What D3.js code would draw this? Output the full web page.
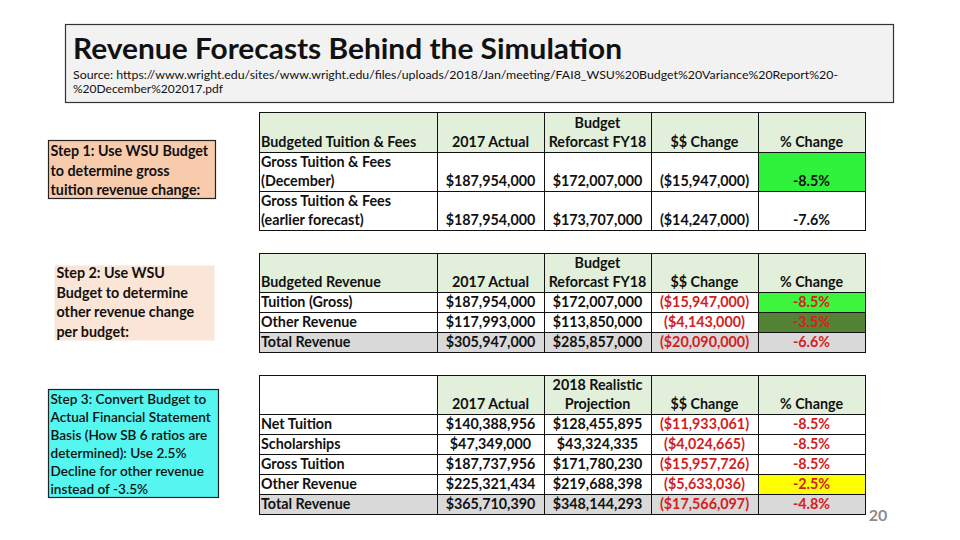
<!DOCTYPE html>
<html><head><meta charset="utf-8">
<script src="https://cdn.jsdelivr.net/npm/d3@7"></script>
<style>
body{margin:0;background:#fff}
svg{display:block}
text{font-family:Lato,"Open Sans","DejaVu Sans",sans-serif}
</style>
</head><body>
<svg id="c" width="960" height="540"></svg>
<script>
// ---------------- DATA ----------------
const title = "Revenue Forecasts Behind the Simulation";
const sourceLines = [
  "Source: https://www.wright.edu/sites/www.wright.edu/files/uploads/2018/Jan/meeting/FAI8_WSU%20Budget%20Variance%20Report%20-",
  "%20December%202017.pdf"
];
const step1 = ["Step 1: Use WSU Budget", "to determine gross", "tuition revenue change:"];
const step2 = ["Step 2: Use WSU", "Budget to determine", "other revenue change", "per budget:"];
const step3 = ["Step 3: Convert Budget to", "Actual Financial Statement", "Basis (How SB 6 ratios are", "determined): Use 2.5%", "Decline for other revenue", "instead of -3.5%"];
const pageNumber = "20";

// Table 1
const t1Headers = [["Budgeted Tuition & Fees"], ["2017 Actual"], ["Budget", "Reforcast FY18"], ["$$ Change"], ["% Change"]];
const t1Labels = [["Gross Tuition & Fees", "(December)"], ["Gross Tuition & Fees", "(earlier forecast)"]];
const t1Actual = [187954000, 187954000];
const t1Budget = [172007000, 173707000];
const t1Change = [-15947000, -14247000];
const t1Pct = [-8.5, -7.6];

// Table 2
const t2Headers = [["Budgeted Revenue"], ["2017 Actual"], ["Budget", "Reforcast FY18"], ["$$ Change"], ["% Change"]];
const t2Labels = [["Tuition (Gross)"], ["Other Revenue"], ["Total Revenue"]];
const t2Actual = [187954000, 117993000, 305947000];
const t2Budget = [172007000, 113850000, 285857000];
const t2Change = [-15947000, -4143000, -20090000];
const t2Pct = [-8.5, -3.5, -6.6];

// Table 3
const t3Headers = [[""], ["2017 Actual"], ["2018 Realistic", "Projection"], ["$$ Change"], ["% Change"]];
const t3Labels = [["Net Tuition"], ["Scholarships"], ["Gross Tuition"], ["Other Revenue"], ["Total Revenue"]];
const t3Actual = [140388956, 47349000, 187737956, 225321434, 365710390];
const t3Projection = [128455895, 43324335, 171780230, 219688398, 348144293];
const t3Change = [-11933061, -4024665, -15957726, -5633036, -17566097];
const t3Pct = [-8.5, -8.5, -8.5, -2.5, -4.8];

// ---------------- STYLE ----------------
const C = {
  headerGreen: "#e2efda", gray: "#d9d9d9", brightGreen: "#2ef23c", green2: "#3df53d",
  darkGreen: "#548235", yellow: "#ffff00", red: "#d42020", line: "#111",
  step1: "#f8cbad", step2: "#fbe5d6", step3: "#55f5f0", titleBox: "#f2f2f2"
};
const FS = 14.3;

const svg = d3.select("#c");
const loc = d3.formatLocale({decimal: ".", thousands: ",", grouping: [3], currency: ["$", ""], minus: "-"});
const fmtN = loc.format(",");
const money = v => v < 0 ? "($" + fmtN(-v) + ")" : "$" + fmtN(v);
const pct = v => loc.format(".1f")(v) + "%";

function fitWidth(sel, w) {
  sel.each(function () {
    const n = this.getComputedTextLength();
    if (n > w) d3.select(this).attr("textLength", w).attr("lengthAdjust", "spacingAndGlyphs");
  });
}

// Title box
svg.append("rect").attr("x", 65.5).attr("y", 24.5).attr("width", 828).attr("height", 78)
  .attr("fill", C.titleBox).attr("stroke", "#333").attr("stroke-width", 1.2);
svg.append("text").attr("x", 73).attr("y", 59).attr("font-size", 28).attr("font-weight", 700)
  .attr("fill", "#111").text(title)
  .attr("textLength", 549).attr("lengthAdjust", "spacingAndGlyphs");
svg.selectAll("text.src").data(sourceLines).join("text").attr("class", "src")
  .attr("x", 73).attr("y", (d, i) => 79 + i * 14).attr("font-size", 11).attr("fill", "#111")
  .text(d => d)
  .each(function (d, i) {
    if (i === 0) d3.select(this).attr("textLength", 765).attr("lengthAdjust", "spacingAndGlyphs");
    else d3.select(this).attr("textLength", 150).attr("lengthAdjust", "spacingAndGlyphs");
  });

// Step boxes
function stepBox(lines, box, opts) {
  const g = svg.append("g");
  g.append("rect").attr("x", box.x + 0.5).attr("y", box.y + 0.5).attr("width", box.w).attr("height", box.h)
    .attr("fill", opts.fill).attr("stroke", opts.stroke || "none").attr("stroke-width", 1.2);
  g.selectAll("text").data(lines).join("text")
    .attr("x", box.x + 2.5).attr("y", (d, i) => opts.y0 + i * opts.dy)
    .attr("font-size", opts.fs).attr("font-weight", opts.fw).attr("fill", "#111").text(d => d)
    .call(fitWidth, box.w - 4);
}
stepBox(step1, {x: 48, y: 140, w: 167, h: 58}, {fill: C.step1, stroke: "#222", y0: 156, dy: 19.5, fs: FS, fw: 700});
stepBox(step2, {x: 54, y: 265, w: 160, h: 75}, {fill: C.step2, y0: 278, dy: 19.5, fs: FS, fw: 700});
stepBox(step3, {x: 48, y: 389, w: 170, h: 108}, {fill: C.step3, stroke: "#222", y0: 404, dy: 18, fs: 13.6, fw: 600});

// Tables
function drawTable(cfg) {
  const g = svg.append("g");
  const nRows = cfg.labels.length;
  const cols = d3.scaleBand().domain(d3.range(4)).range([cfg.xLabelEnd, cfg.xRight]);
  const rows = d3.scaleBand().domain(d3.range(nRows)).range([cfg.yHeader, cfg.yBottom]);
  const cellX = c => c < 0 ? cfg.x0 : cols(c);
  const cellW = c => c < 0 ? cfg.xLabelEnd - cfg.x0 : cols.bandwidth();
  const cellCx = c => c < 0 ? cfg.x0 + 2 : cols(c) + cols.bandwidth() / 2;
  const anchor = c => c < 0 ? "start" : "middle";

  // header cells
  const hdr = cfg.headers.map((lines, i) => ({c: i - 1, lines}));
  g.selectAll("rect.h").data(hdr).join("rect").attr("class", "h")
    .attr("x", d => cellX(d.c) + 0.5).attr("y", cfg.yTop + 0.5)
    .attr("width", d => cellW(d.c)).attr("height", cfg.yHeader - cfg.yTop)
    .attr("fill", d => (d.c < 0 && cfg.labelHeaderWhite) ? "#fff" : C.headerGreen)
    .attr("stroke", C.line).attr("stroke-width", 1);
  hdr.forEach(d => {
    g.selectAll(null).data(d.lines).join("text")
      .attr("x", cellCx(d.c)).attr("text-anchor", anchor(d.c))
      .attr("y", (t, i) => cfg.yHeader - 5 - (d.lines.length - 1 - i) * 19.5)
      .attr("font-size", FS).attr("font-weight", 700).attr("fill", "#111").text(t => t)
      .call(fitWidth, cellW(d.c) - 4);
  });

  // body cells
  const cells = [];
  for (let r = 0; r < nRows; r++) {
    const isTotal = r === cfg.totalRow;
    cells.push({r, c: -1, lines: cfg.labels[r], fill: isTotal ? C.gray : "#fff", color: "#111"});
    cfg.values.forEach((arr, ci) => {
      const v = arr[r];
      const txt = ci === 3 ? pct(v) : money(v);
      let fill = isTotal ? C.gray : "#fff";
      if (ci === 3 && cfg.pctFill[r]) fill = cfg.pctFill[r];
      cells.push({r, c: ci, lines: [txt], fill, color: cfg.colColor[ci]});
    });
  }
  g.selectAll("rect.b").data(cells).join("rect").attr("class", "b")
    .attr("x", d => cellX(d.c) + 0.5).attr("y", d => rows(d.r) + 0.5)
    .attr("width", d => cellW(d.c)).attr("height", rows.bandwidth())
    .attr("fill", d => d.fill).attr("stroke", C.line).attr("stroke-width", 1);
  cells.forEach(d => {
    const bottom = rows(d.r) + rows.bandwidth();
    g.selectAll(null).data(d.lines).join("text")
      .attr("x", cellCx(d.c)).attr("text-anchor", anchor(d.c))
      .attr("y", (t, i) => bottom - 5 - (d.lines.length - 1 - i) * 19.5)
      .attr("font-size", FS).attr("font-weight", 700).attr("fill", d.color).text(t => t)
      .call(fitWidth, cellW(d.c) - 6);
  });
}

drawTable({
  x0: 259, xLabelEnd: 437, xRight: 865, yTop: 112, yHeader: 152, yBottom: 230,
  headers: t1Headers, labels: t1Labels, values: [t1Actual, t1Budget, t1Change, t1Pct],
  colColor: ["#111", "#111", "#111", "#111"], pctFill: {0: C.brightGreen}, totalRow: -1
});
drawTable({
  x0: 259, xLabelEnd: 437, xRight: 865, yTop: 253, yHeader: 292, yBottom: 352,
  headers: t2Headers, labels: t2Labels, values: [t2Actual, t2Budget, t2Change, t2Pct],
  colColor: ["#111", "#111", C.red, C.red], pctFill: {0: C.green2, 1: C.darkGreen}, totalRow: 2
});
drawTable({
  x0: 259, xLabelEnd: 437, xRight: 865, yTop: 375, yHeader: 414, yBottom: 514,
  headers: t3Headers, labels: t3Labels, values: [t3Actual, t3Projection, t3Change, t3Pct],
  colColor: ["#111", "#111", C.red, C.red], pctFill: {3: C.yellow}, totalRow: 4, labelHeaderWhite: true
});

// page number
svg.append("text").attr("x", 878).attr("y", 521).attr("text-anchor", "middle")
  .attr("font-size", 16).attr("font-weight", 700).attr("fill", "#8c8c8c").text(pageNumber);
</script>
</body></html>
